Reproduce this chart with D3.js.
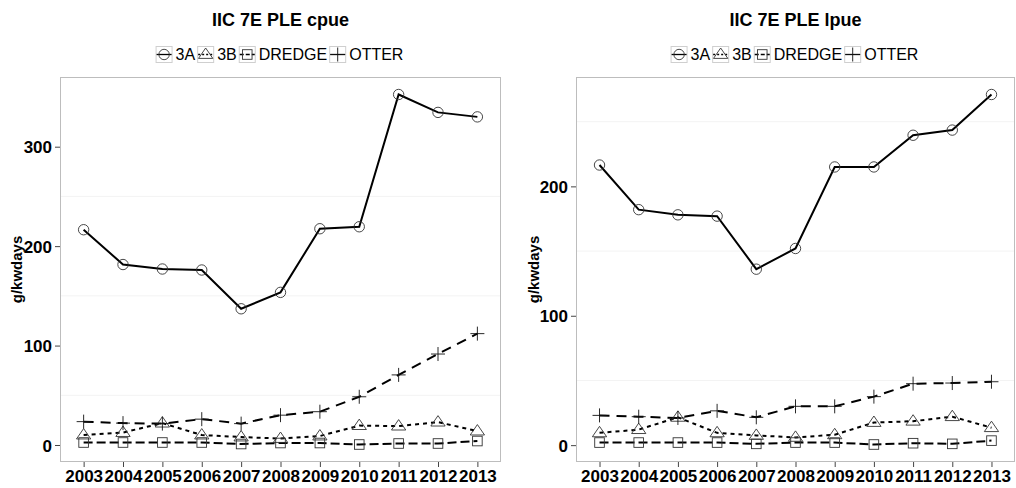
<!DOCTYPE html>
<html><head><meta charset="utf-8">
<script src="https://cdn.jsdelivr.net/npm/d3@7/dist/d3.min.js"></script>
<style>body{margin:0;background:#fff}svg{display:block}text{font-family:"Liberation Sans",Arial,sans-serif}</style>
</head><body><svg id="c" width="1016" height="488"></svg>
<script>
const years = [2003,2004,2005,2006,2007,2008,2009,2010,2011,2012,2013];
const seriesNames = ["3A","3B","DREDGE","OTTER"];
const cpue3A = [216.5,181.5,177,176,137,153.5,217.5,219.5,352.5,334.5,330];
const cpue3B = [10,12.5,22,10,8,6.5,9,19.5,19,23,14];
const cpueDredge = [2.5,2.5,2.5,2.5,1,2,2,0.5,1.5,1.5,4];
const cpueOtter = [23.5,22,21.5,26,21.5,30,33.5,48.5,70.5,91.5,112];
const lpue3A = [216.5,182,178,177,136,152,215,215,239.5,243.5,271];
const lpue3B = [9.5,12,21.5,9.5,7.5,6,8,17.5,18.5,22,13.5];
const lpueDredge = [2,2,2,2,1,2,2,0.5,1.5,1,3.5];
const lpueOtter = [23,22,21,26.5,21.5,30,30,37.5,47.5,48,49];
const cpueTicks = [0,100,200,300];
const lpueTicks = [0,100,200];
const cpueMinor = [50,150,250];
const lpueMinor = [50,150,250];
const titles = ["IIC 7E PLE cpue","IIC 7E PLE lpue"];
const yTitle = "g/kwdays";

const dashes = {"3A":null,"3B":"4,4","DREDGE":"9,4","OTTER":"10,7"};
const shapes = {"3A":"circle","3B":"triangle","DREDGE":"square","OTTER":"plus"};

const panels = [
  {title:titles[0], series:[cpue3A,cpue3B,cpueDredge,cpueOtter], ticks:cpueTicks, minor:cpueMinor, x0:60, x1:501, ytx:17},
  {title:titles[1], series:[lpue3A,lpue3B,lpueDredge,lpueOtter], ticks:lpueTicks, minor:lpueMinor, x0:576, x1:1015, ytx:534}
];
const pTop=77, pBottom=462;
const svg = d3.select("#c");

function drawShape(g, shape, x, y){
  const col="#333";
  if(shape==="circle") g.append("circle").attr("cx",x).attr("cy",y).attr("r",5.2).attr("fill","none").attr("stroke",col).attr("stroke-width",0.9);
  else if(shape==="triangle"){
    const s=6.5;
    g.append("path").attr("d",`M${x},${y-s}L${x+s*1.1},${y+s*0.6}L${x-s*1.1},${y+s*0.6}Z`).attr("fill","none").attr("stroke",col).attr("stroke-width",0.9);
  } else if(shape==="square"){
    g.append("rect").attr("x",x-4.8).attr("y",y-4.8).attr("width",9.6).attr("height",9.6).attr("fill","none").attr("stroke",col).attr("stroke-width",0.9);
  } else {
    const s=7;
    g.append("path").attr("d",`M${x-s},${y}H${x+s}M${x},${y-s}V${y+s}`).attr("fill","none").attr("stroke","#111").attr("stroke-width",0.9);
  }
}

panels.forEach(p=>{
  const all = p.series.flat();
  const mn=d3.min(all), mx=d3.max(all), r=mx-mn;
  const y = d3.scaleLinear().domain([mn-0.05*r, mx+0.05*r]).range([pBottom, pTop]);
  const x = d3.scaleLinear().domain([years[0]-0.6, years[years.length-1]+0.6]).range([p.x0, p.x1]);
  const g = svg.append("g");
  g.selectAll("line.mg").data(p.minor).enter().append("line")
    .attr("x1",p.x0).attr("x2",p.x1).attr("y1",d=>y(d)).attr("y2",d=>y(d))
    .attr("stroke","#f3f3f3").attr("stroke-width",1);
  g.append("rect").attr("x",p.x0+0.5).attr("y",pTop+0.5).attr("width",p.x1-p.x0-1).attr("height",pBottom-pTop-1)
    .attr("fill","none").attr("stroke","#bdbdbd").attr("stroke-width",1);
  const ya = g.append("g").attr("transform",`translate(${p.x0},0)`)
    .call(d3.axisLeft(y).tickValues(p.ticks).tickSize(5).tickPadding(3).tickFormat(d3.format("d")));
  ya.select(".domain").remove();
  ya.selectAll(".tick line").attr("stroke","#444");
  ya.selectAll(".tick text").attr("fill","#000").style("font-size","17px").style("font-weight","bold").attr("dy","0.36em");
  const xa = g.append("g").attr("transform",`translate(0,${pBottom})`)
    .call(d3.axisBottom(x).tickValues(years).tickSize(5).tickPadding(2).tickFormat(d3.format("d")));
  xa.select(".domain").remove();
  xa.selectAll(".tick line").attr("stroke","#444");
  xa.selectAll(".tick text").attr("fill","#000").style("font-size","17px").style("font-weight","bold").attr("dy","0.74em");
  g.append("text").attr("transform",`translate(${p.ytx},${(pTop+pBottom)/2}) rotate(-90)`)
    .attr("text-anchor","middle").attr("dy","0.36em").style("font-size","15px").style("font-weight","bold").text(yTitle);
  const cx=(p.x0+p.x1)/2;
  g.append("text").attr("x",cx).attr("y",26).attr("text-anchor","middle")
    .style("font-size","18px").style("font-weight","bold").text(p.title);
  const line = d3.line().x((d,i)=>x(years[i])).y(d=>y(d));
  p.series.forEach((s,k)=>{
    const nm=seriesNames[k];
    g.append("path").datum(s).attr("d",line).attr("fill","none").attr("stroke","#000")
      .attr("stroke-width",2).attr("stroke-dasharray",dashes[nm]);
  });
  p.series.forEach((s,k)=>{
    const nm=seriesNames[k];
    s.forEach((v,i)=>drawShape(g,shapes[nm],x(years[i]),y(v)));
  });
  const lg = g.append("g");
  let cur=0; const ks=17, gap=3;
  seriesNames.forEach(nm=>{
    const kg=lg.append("g").attr("transform",`translate(${cur},0)`);
    kg.append("rect").attr("x",0.5).attr("y",0.5).attr("width",ks-1).attr("height",ks-1).attr("fill","#fff").attr("stroke","#cfcfcf");
    kg.append("line").attr("x1",1).attr("x2",ks-1).attr("y1",ks/2).attr("y2",ks/2).attr("stroke","#000").attr("stroke-width",1.3)
      .attr("stroke-dasharray",nm==="3A"?null:(nm==="3B"?"2,2":(nm==="DREDGE"?"4,2":null)));
    drawShape(kg,shapes[nm],ks/2,ks/2);
    const t=kg.append("text").attr("x",ks+gap).attr("y",ks/2).attr("dy","0.36em").style("font-size","16px").text(nm);
    cur += ks+gap+t.node().getComputedTextLength()+2;
  });
  lg.attr("transform",`translate(${cx-cur/2},46)`);
});
</script></body></html>
